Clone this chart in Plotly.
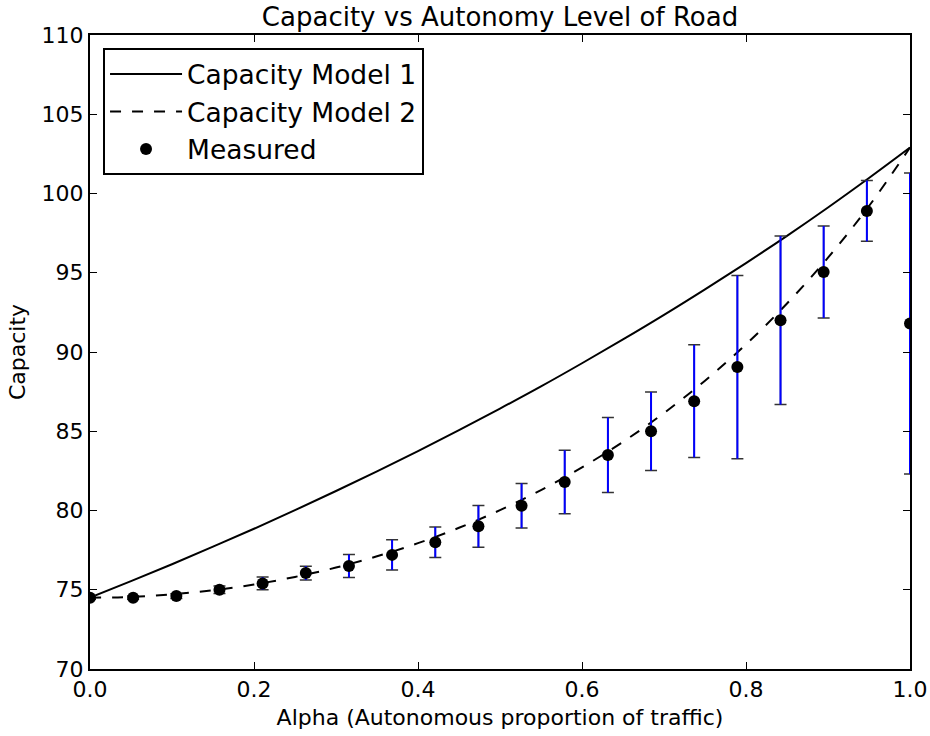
import plotly.graph_objects as go

# Measured data
alpha_meas = [0.0, 0.0526, 0.1053, 0.1579, 0.2105, 0.2632, 0.3158, 0.3684, 0.4211, 0.4737,
              0.5263, 0.5789, 0.6316, 0.6842, 0.7368, 0.7895, 0.8421, 0.8947, 0.9474, 1.0]
cap_meas = [74.5, 74.5, 74.6, 75.0, 75.4, 76.05, 76.5, 77.2, 78.0, 79.0,
            80.3, 81.8, 83.5, 85.0, 86.9, 89.05, 92.0, 95.05, 98.9, 91.8]
cap_err = [0.1, 0.1, 0.15, 0.23, 0.4, 0.44, 0.73, 0.95, 0.96, 1.32,
           1.41, 2.0, 2.37, 2.47, 3.55, 5.78, 5.32, 2.9, 1.92, 9.5]

# Model curves
alpha_model = [0.0, 0.05, 0.10, 0.15, 0.20, 0.25, 0.30, 0.35, 0.40, 0.45, 0.50,
               0.55, 0.60, 0.65, 0.70, 0.75, 0.80, 0.85, 0.90, 0.95, 1.0]
model1 = [74.50, 75.54, 76.61, 77.72, 78.85, 80.02, 81.23, 82.47, 83.75, 85.07, 86.43,
          87.83, 89.29, 90.79, 92.34, 93.95, 95.61, 97.33, 99.12, 100.98, 102.90]
model2 = [74.50, 74.55, 74.71, 74.97, 75.33, 75.81, 76.40, 77.11, 77.94, 78.91, 80.02,
          81.29, 82.72, 84.33, 86.15, 88.19, 90.48, 93.06, 95.95, 99.21, 102.90]

x_ticks = [0.0, 0.2, 0.4, 0.6, 0.8, 1.0]
y_ticks = [70, 75, 80, 85, 90, 95, 100, 105, 110]

FONT = "DejaVu Sans"

fig = go.Figure()

fig.add_trace(go.Scatter(
    x=alpha_model, y=model1, mode="lines", name="Capacity Model 1",
    line=dict(color="black", width=2, shape="spline"),
    legendgroup="a",
))
fig.add_trace(go.Scatter(
    x=alpha_model, y=model2, mode="lines", name="Capacity Model 2",
    line=dict(color="black", width=2, dash="11px,11px", shape="spline"),
    legendgroup="b",
))
# caps (black) underneath
fig.add_trace(go.Scatter(
    x=alpha_meas, y=cap_meas, mode="markers", showlegend=False,
    marker=dict(size=1, color="rgba(0,0,0,0)"),
    error_y=dict(type="data", array=cap_err, visible=True,
                 color="#333333", thickness=1.5, width=6),
    hoverinfo="skip",
))
fig.add_trace(go.Scatter(
    x=alpha_meas, y=cap_meas, mode="markers", name="Measured",
    marker=dict(size=12, color="black"),
    error_y=dict(type="data", array=cap_err, visible=True,
                 color="blue", thickness=2, width=0),
    legendgroup="c",
))

axis_common = dict(
    showline=True, linecolor="black", linewidth=2, mirror="allticks",
    ticks="inside", ticklen=7, tickwidth=1, tickcolor="black",
    showgrid=False, zeroline=False, automargin=False,
    tickfont=dict(family=FONT, size=22, color="black"),
)

fig.update_layout(
    width=930, height=736,
    paper_bgcolor="white", plot_bgcolor="white",
    margin=dict(l=90, r=20, t=35, b=67, autoexpand=False),
    font=dict(family=FONT, color="black"),
    title=dict(text="Capacity vs Autonomy Level of Road",
               x=(90 + 910) / 2 / 930, xanchor="center",
               y=1 - 17 / 736, yanchor="middle", yref="container",
               font=dict(family=FONT, size=26, color="black")),
    xaxis=dict(range=[0, 1], tickvals=x_ticks, tickformat=".1f",
               title=dict(text="Alpha (Autonomous proportion of traffic)",
                          font=dict(family=FONT, size=22), standoff=8),
               **axis_common),
    yaxis=dict(range=[70, 110], tickvals=y_ticks,
               title=dict(text="Capacity", font=dict(family=FONT, size=22), standoff=10),
               **axis_common),
    legend=dict(x=0.0159, y=0.979, xanchor="left", yanchor="top",
                bgcolor="white", bordercolor="black", borderwidth=2,
                font=dict(family=FONT, size=26.5, color="black"),
                traceorder="grouped", tracegroupgap=0, itemwidth=72),
    showlegend=True,
)

fig.write_html("out.html", post_script="document.body.style.margin='0';",
               config={"displayModeBar": False})
